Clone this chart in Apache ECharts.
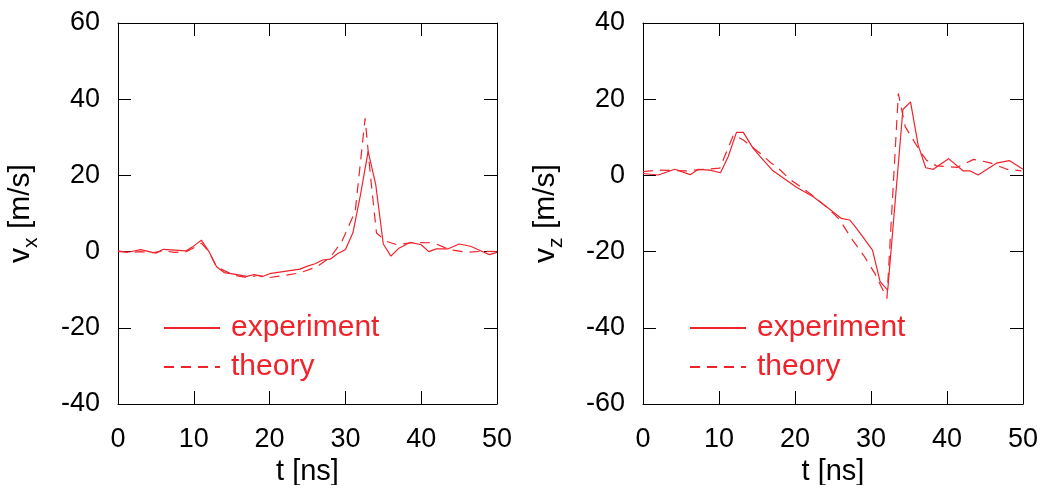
<!DOCTYPE html>
<html><head><meta charset="utf-8">
<script src="https://cdn.jsdelivr.net/npm/echarts@6/dist/echarts.min.js"></script>
<style>html,body{margin:0;padding:0;background:#fff}#c{width:1043px;height:485px}</style>
</head><body><div id="c"></div>
<script>
// Left panel: v_x
const vxExperiment = [[0,0],[1.5,-0.1],[3,0.5],[4.5,-0.2],[5,-0.4],[6,0.6],[7.5,0.4],[9,0.2],[10,1.5],[11,3.0],[12,0.0],[13,-4.0],[14,-5.5],[15.5,-6.0],[17,-6.5],[18,-6.0],[19,-6.6],[20,-5.8],[22,-5.2],[24,-4.6],[25,-3.8],[26,-3.2],[27,-2.2],[28,-2.0],[29,-0.5],[30,0.5],[31,5.0],[32,15],[33,26.3],[34,17.6],[35,2],[36,-1.2],[37,0.8],[38.5,2.4],[40,1.8],[41,0],[42,0.7],[43.5,0.7],[45,2],[46.5,1.4],[48,0.1],[49,-0.8],[50,-0.2]];
const vxTheory = [[0,0.2],[1.5,-0.3],[3,0],[4.5,-0.3],[6,0.2],[7.5,-0.2],[9,0],[10,1],[11,2.2],[12,0],[13,-4],[14,-5.0],[15.5,-6.3],[17,-6.8],[18.5,-6.2],[20,-6.8],[21.8,-6.3],[24,-5.6],[26.2,-4],[28,-1.5],[29.5,2.5],[31.3,10.6],[32.6,35],[33.3,20],[34.1,4.9],[35.4,2.7],[36.8,1.8],[39,2.4],[41.6,2.3],[43.8,0.5],[46,-0.2],[48.2,0.1],[50,0]];
// Right panel: v_z
const vzExperiment = [[0,0.5],[2,0.1],[4.2,1.6],[6.2,0.2],[7.3,1.6],[8.8,1.4],[10.2,0.7],[11.2,4.9],[12.3,11.3],[13.2,11.3],[14.5,7.1],[15.4,5],[17.1,1.2],[20.2,-3.1],[22.4,-5.6],[24.4,-8.6],[26.1,-11.3],[27.2,-11.7],[28.1,-13.9],[30.2,-19.6],[31.2,-27.9],[32.2,-30.1],[34.2,17.3],[35.2,19.3],[36.2,8],[37.2,2],[38.2,1.6],[40.2,4.4],[42.1,1.2],[43,1.2],[44.1,0.1],[46.5,3.2],[48.2,3.9],[50,1.6]];
const vzTheory = [[0,1],[2.2,1.4],[5.7,1.2],[8.2,1.6],[10.1,1.9],[11.9,10.6],[13.2,9.3],[15.4,5.8],[16.9,3.2],[17.6,2.3],[19.3,-1.0],[20.6,-2.8],[22.8,-6],[24.6,-9.1],[25.9,-11.7],[27.4,-16.5],[29,-20.9],[30.5,-25.7],[32.1,-32.3],[33.6,21.5],[34.5,12.8],[36.5,6.2],[37.3,4],[38.6,2.5],[41.3,2.1],[43.5,4.2],[45.7,3.3],[47.9,1.6],[49.8,1.2]];
const xTicks = {min:0, max:50, interval:10};
const yLeft = {min:-40, max:60, interval:20};
const yRight = {min:-60, max:40, interval:20};
const seriesNames = ['experiment','theory'];

const RED = '#f0232b';
const FONT = 'Liberation Sans';
const chart = echarts.init(document.getElementById('c'));
function xAx(gi, pos){
  return {type:'value', gridIndex:gi, position:pos, min:xTicks.min, max:xTicks.max, interval:xTicks.interval,
    axisLine:{show:true, onZero:false, lineStyle:{color:'#000', width:1}},
    axisTick:{show:true, inside:true, length:13, lineStyle:{color:'#000'}},
    axisLabel:{show:pos==='bottom', color:'#000', fontSize:27, fontFamily:FONT, margin:22},
    splitLine:{show:false},
    name: pos==='bottom' ? 't [ns]' : '', nameLocation:'middle', nameGap:49,
    nameTextStyle:{color:'#000', fontSize:29, fontFamily:FONT}};
}
function yAx(gi, pos, r, sub){
  return {type:'value', gridIndex:gi, position:pos, min:r.min, max:r.max, interval:r.interval,
    axisLine:{show:true, onZero:false, lineStyle:{color:'#000', width:1}},
    axisTick:{show:true, inside:true, length:13, lineStyle:{color:'#000'}},
    axisLabel:{show:pos==='left', color:'#000', fontSize:27, fontFamily:FONT, margin:18},
    splitLine:{show:false},
    name: pos==='left' ? '{m|v}{s|'+sub+'}{m| [m/s]}' : '', nameLocation:'middle', nameGap:76,
    nameTextStyle:{color:'#000', fontSize:30, fontFamily:FONT,
      rich:{m:{fontSize:30, fontFamily:FONT, color:'#000', lineHeight:42, verticalAlign:'middle'},
            s:{fontSize:21, fontFamily:FONT, color:'#000', lineHeight:42, verticalAlign:'bottom'}}}};
}
function mk(name, data, xi, yi, dashed){
  return {name, type:'line', data, xAxisIndex:xi, yAxisIndex:yi, symbol:'none', animation:false,
    lineStyle:{color:RED, width:1.2, type: dashed ? [10,7] : 'solid'}, itemStyle:{color:RED}};
}
function leg(left){
  return {data:seriesNames, orient:'vertical', left, top:313, padding:0, itemWidth:56, itemHeight:14, itemGap:9,
    itemStyle:{opacity:0},
    textStyle:{color:RED, fontSize:30, fontFamily:FONT, lineHeight:30, padding:[0,0,0,6]}, selectedMode:false};
}
chart.setOption({
  backgroundColor:'#fff',
  animation:false,
  grid:[{left:118, top:23, width:379, height:381, outerBoundsMode:'none', containLabel:false},
        {left:643, top:23, width:380, height:381, outerBoundsMode:'none', containLabel:false}],
  xAxis:[xAx(0,'bottom'), xAx(0,'top'), xAx(1,'bottom'), xAx(1,'top')],
  yAxis:[yAx(0,'left',yLeft,'x'), yAx(0,'right',yLeft,''), yAx(1,'left',yRight,'z'), yAx(1,'right',yRight,'')],
  legend:[leg(163), leg(689)],
  series:[
    mk(seriesNames[0], vxExperiment, 0, 0, false),
    mk(seriesNames[1], vxTheory, 0, 0, true),
    mk(seriesNames[0], vzExperiment, 2, 2, false),
    mk(seriesNames[1], vzTheory, 2, 2, true)
  ]
});
</script></body></html>
